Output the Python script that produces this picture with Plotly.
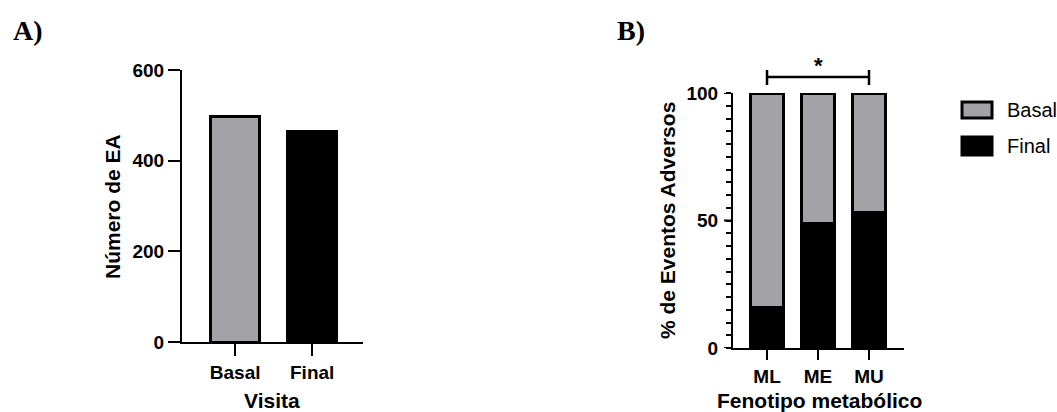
import plotly.graph_objects as go

# Panel A: total adverse events per visit
visits = ["Basal", "Final"]
events_total = [497, 465]

# Panel B: % of adverse events by metabolic phenotype
phenotypes = ["ML", "ME", "MU"]
pct_final = [16, 49, 53]
pct_basal = [84, 51, 47]

GRAY = "#a3a2a7"
BLACK = "#000000"
FONT = "Liberation Sans, Arial, sans-serif"
W, H = 1057, 412


def px_x(p):
    return p / W


def px_y(p):
    return 1 - p / H


fig = go.Figure()

fig.add_trace(go.Bar(
    x=visits, y=events_total, xaxis="x", yaxis="y", width=0.64,
    marker=dict(color=[GRAY, BLACK], line=dict(color=BLACK, width=3)),
    showlegend=False,
))

fig.add_trace(go.Bar(
    x=phenotypes, y=pct_final, xaxis="x2", yaxis="y2", width=0.64, name="Final",
    marker=dict(color=BLACK, line=dict(color=BLACK, width=3)),
    showlegend=False,
))
fig.add_trace(go.Bar(
    x=phenotypes, y=pct_basal, xaxis="x2", yaxis="y2", width=0.64, name="Basal",
    marker=dict(color=GRAY, line=dict(color=BLACK, width=3)),
    showlegend=False,
))

tick_font = dict(family=FONT, size=19, color=BLACK, weight="bold")
axis_common = dict(
    showline=True, linecolor=BLACK, linewidth=2, showgrid=False, zeroline=False,
    ticks="outside", tickwidth=2, tickcolor=BLACK, tickfont=tick_font,
)

# percentage axis: a tick every 5 %, labelled only at 0 / 50 / 100
pct_ticks = list(range(0, 101, 5))
pct_labels = [str(v) if v % 50 == 0 else "" for v in pct_ticks]
pct_major = [0, 50, 100]

B_XDOMAIN = [px_x(733), px_x(904)]
B_YDOMAIN = [px_y(348), px_y(93)]

fig.update_layout(
    width=W, height=H, autosize=False,
    margin=dict(l=0, r=0, t=0, b=0, autoexpand=False),
    paper_bgcolor="white", plot_bgcolor="white",
    barmode="stack",
    xaxis=dict(domain=[px_x(182), px_x(363)], anchor="y", type="category",
               range=[-0.69, 1.66], ticklen=12, **axis_common),
    yaxis=dict(domain=[px_y(342), px_y(70)], anchor="x", range=[0, 600],
               dtick=200, ticklen=12, **axis_common),
    xaxis2=dict(domain=B_XDOMAIN, anchor="y2", type="category",
                range=[-0.667, 2.686], ticklen=10, **axis_common),
    yaxis2=dict(domain=B_YDOMAIN, anchor="x2", range=[0, 100],
                tickmode="array", tickvals=pct_ticks, ticktext=pct_labels,
                ticklen=5, ticklabelstandoff=4, **axis_common),
    showlegend=False,
)

title_font = dict(family=FONT, size=21, color=BLACK, weight="bold")
panel_font = dict(family="Liberation Serif, Times New Roman, serif", size=28, color=BLACK, weight="bold")
legend_font = dict(family=FONT, size=20, color=BLACK)

annotations = [
    dict(text="A)", x=px_x(11), y=px_y(31), xanchor="left", yanchor="middle", font=panel_font),
    dict(text="B)", x=px_x(615), y=px_y(31), xanchor="left", yanchor="middle", font=panel_font),
    dict(text="Número de EA", x=px_x(112), y=px_y(207), textangle=-90,
         xanchor="center", yanchor="middle", font=title_font),
    dict(text="Visita", x=px_x(272), y=px_y(400), xanchor="center", yanchor="middle", font=title_font),
    dict(text="% de Eventos Adversos", x=px_x(667), y=px_y(221), textangle=-90,
         xanchor="center", yanchor="middle", font=title_font),
    dict(text="Fenotipo metabólico", x=px_x(819), y=px_y(400), xanchor="center", yanchor="middle",
         font=title_font),
    # significance marker between ML and MU
    dict(text="*", x=1, xref="x2", y=px_y(65), yref="paper", xanchor="center", yanchor="middle",
         showarrow=False, font=dict(family=FONT, size=22, color=BLACK, weight="bold")),
    # legend labels
    dict(text="Basal", x=px_x(1005), y=px_y(110), xanchor="left", yanchor="middle", font=legend_font),
    dict(text="Final", x=px_x(1005), y=px_y(146), xanchor="left", yanchor="middle", font=legend_font),
]
for a in annotations:
    a.setdefault("xref", "paper")
    a.setdefault("yref", "paper")
    a.setdefault("showarrow", False)
fig.update_layout(annotations=annotations)

# longer marks for the labelled percentage ticks (9 px left of the axis line)
major_len = 9 / (B_XDOMAIN[1] - B_XDOMAIN[0]) / W
shapes = [
    dict(type="line", xref="x2 domain", yref="y2", x0=-major_len, x1=0, y0=v, y1=v,
         line=dict(color=BLACK, width=2))
    for v in pct_major
]

shapes += [
    # bracket over ML..MU
    dict(type="line", xref="x2", yref="paper", x0=0, x1=2, y0=px_y(77), y1=px_y(77),
         line=dict(color=BLACK, width=2.5)),
    dict(type="line", xref="x2", yref="paper", x0=0, x1=0, y0=px_y(70), y1=px_y(85),
         line=dict(color=BLACK, width=2.5)),
    dict(type="line", xref="x2", yref="paper", x0=2, x1=2, y0=px_y(70), y1=px_y(85),
         line=dict(color=BLACK, width=2.5)),
    # legend swatches
    dict(type="rect", xref="paper", yref="paper", x0=px_x(962), x1=px_x(992),
         y0=px_y(118), y1=px_y(102), fillcolor=GRAY, line=dict(color=BLACK, width=3)),
    dict(type="rect", xref="paper", yref="paper", x0=px_x(962), x1=px_x(992),
         y0=px_y(155), y1=px_y(137), fillcolor=BLACK, line=dict(color=BLACK, width=3)),
]
fig.update_layout(shapes=shapes)

fig.write_html("out.html")
